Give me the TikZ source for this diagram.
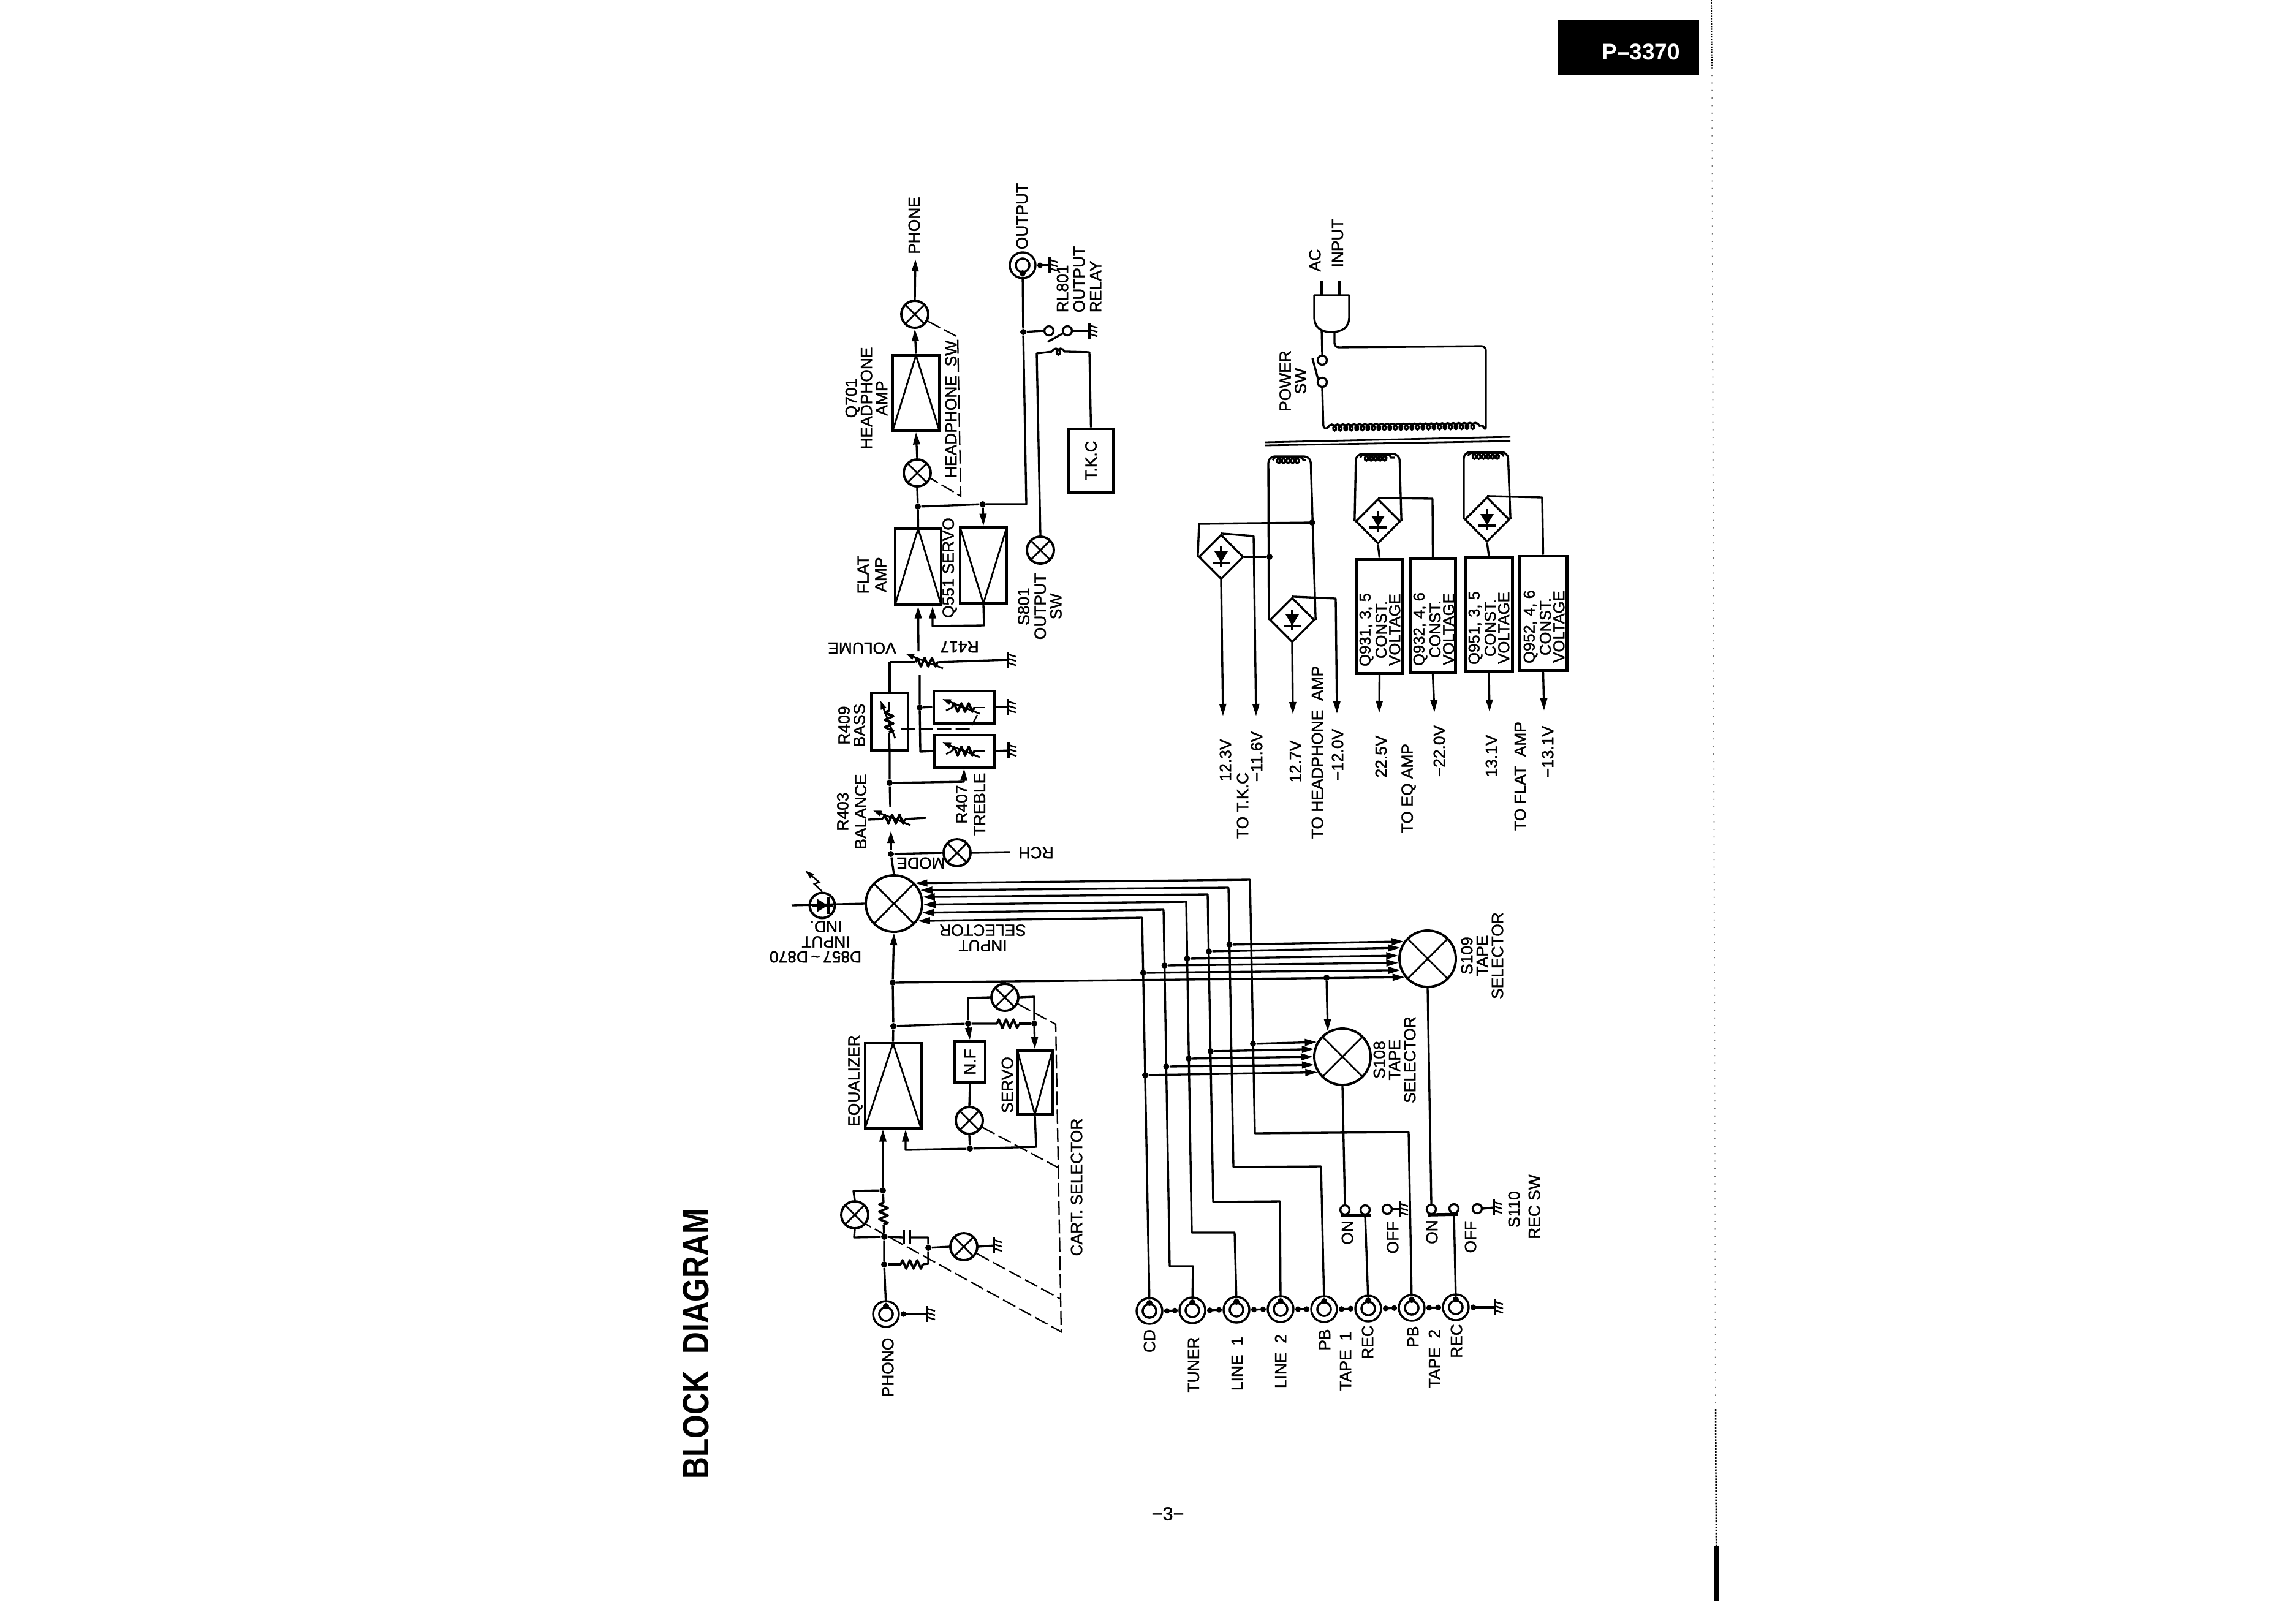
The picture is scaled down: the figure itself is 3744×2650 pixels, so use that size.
\documentclass[tikz,border=0pt]{standalone}
\usepackage{fontspec}
\setsansfont{Liberation Sans}
\newfontfamily\lblfamily[FakeBold=1.4]{Liberation Sans}
\usetikzlibrary{arrows.meta,calc,shapes.geometric,decorations.pathmorphing}
\newcommand{\lblfont}{\lblfamily\fontsize{7.5}{7.1}\selectfont}
\newcommand{\resline}{\draw[wire,line width=1.1pt] (-18,0)--(-15,-7)--(-9,7)--(-3,-7)--(3,7)--(9,-7)--(15,7)--(18,0);}

\begin{document}
\begin{tikzpicture}[x=0.01cm,y=-0.01cm,
  wire/.style={draw,line width=.95pt,line join=round},
  arrow/.style={wire,-{Stealth[length=2mm,width=1.1mm,inset=0pt]}},
  gang/.style={draw,line width=.65pt,dash pattern=on 6.5pt off 2pt},
  dot/.style={circle,fill,inner sep=0,minimum size=.1cm},
  term/.style={circle,draw,line width=.95pt,inner sep=0,minimum size=.15cm},
  xsw/.style={circle,draw,line width=1.1pt,inner sep=0,minimum size=.44cm,
    path picture={\draw[line width=.8pt] (path picture bounding box.north west) -- (path picture bounding box.south east)
      (path picture bounding box.north east) -- (path picture bounding box.south west);}},
  xswbig/.style={xsw,minimum size=.92cm},
  jring/.style={circle,draw,double,line width=1pt,double distance=1.8pt,inner sep=0,minimum size=.32cm},
  block/.style={draw,line width=1.4pt,inner sep=0,font=\lblfont},
  ampup/.style={block,path picture={\draw[line width=.8pt] (path picture bounding box.north) -- (path picture bounding box.south west)
      (path picture bounding box.north) -- (path picture bounding box.south east);}},
  ampdn/.style={block,path picture={\draw[line width=.8pt] (path picture bounding box.south) -- (path picture bounding box.north west)
      (path picture bounding box.south) -- (path picture bounding box.north east);}},
  bridge/.style={diamond,draw,line width=.95pt,shape aspect=1,inner sep=0,minimum size=.73cm},
  coilw/.style={draw,line width=.95pt,decorate,decoration={coil,aspect=.9,segment length=.075cm,amplitude=.05cm}},
  lbltxt/.style={align=center,inner sep=0,font=\lblfont},
  lbl/.style={lbltxt,rotate=90},
  lblflip/.style={lbltxt,rotate=180},
  lbltight/.style={lbl,font=\lblfamily\fontsize{7.3}{6.3}\selectfont},
  jack/.pic={\node[jring] (-c) at (0,0) {}; \node[dot] (-t) at (0,-13) {};
    \coordinate (-e) at (24,0); \coordinate (-w) at (-24,0);},
  jlink/.style={wire,{Circle[length=.09cm]}-{Circle[length=.09cm]}},
  jend/.style={wire,{Circle[length=.09cm]}-},
  gnd/.pic={\coordinate (-in) at (0,0); \draw[line width=1.3pt] (0,-13) -- (0,13);
    \draw[line width=.7pt] (0,-9) -- (13,-5) (0,-2) -- (13,2) (0,5) -- (13,9);},
  res/.pic={\coordinate (-w) at (-18,0); \coordinate (-e) at (18,0); \resline},
  vres/.pic={\coordinate (-w) at (-18,0); \coordinate (-e) at (18,0); \resline
    \draw[line width=.8pt,-{Stealth[length=1.4mm,width=.9mm,inset=0pt]}] (27,10) -- (-34,-14);},
  diode/.pic={\fill (-11,-9) -- (11,-9) -- (0,9) -- cycle;
    \draw[line width=.9pt] (0,-17) -- (0,17) (-14,10) -- (14,10);}]
\fill[white] (0,0) rectangle (3744,2650);
\useasboundingbox (0,0) rectangle (3744,2650);

\node[rotate=90,xscale=.83,inner sep=0,font=\sffamily\bfseries\fontsize{17}{17}\selectfont] (title) at (1136,2194) {BLOCK\ \ DIAGRAM};
\node[fill=black,minimum width=2.3cm,minimum height=.89cm,inner sep=0] (tag) at (2658,77.5) {};
\node[text=white,inner sep=0,font=\sffamily\bfseries\fontsize{10.5}{10.5}\selectfont] (tagnum) at (2678,85) {P–3370};
\node[inner sep=0,font=\lblfamily\fontsize{8.7}{8.7}\selectfont] (pageno) at (1906,2471) {−3−};
\draw[line width=.5pt,dash pattern=on .6pt off .6pt] (2793,0) -- (2794,110);
\draw[black!55,line width=.5pt,dash pattern=on .5pt off 3pt] (2794,110) -- (2800,2300);
\draw[line width=.7pt,dash pattern=on .8pt off .6pt] (2800,2300) -- (2801,2523);
\draw[line width=2.2pt] (2801,2523) -- (2802,2613);

\node[xsw] (hpout) at (1493,513) {};
\node[ampup,minimum width=.76cm,minimum height=1.23cm] (hpamp) at (1495,641.5) {};
\node[xsw] (hpin) at (1497,772) {};
\node[dot] (flatdot) at (1498,827) {};
\node[dot] (srvdot) at (1604,823) {};
\node[ampup,minimum width=.75cm,minimum height=1.24cm] (flatamp) at (1498.5,925) {};
\node[ampdn,minimum width=.76cm,minimum height=1.24cm] (flatsrv) at (1605,923) {};
\pic (outj) [rotate=180] at (1669,433) {jack};
\pic (goutj) at (1713,433) {gnd};
\node[dot] (rldot) at (1670,542) {};
\node[term] (rla) at (1712,540) {};
\node[term] (rlb) at (1742,540) {};
\pic (grl) at (1778,540) {gnd};
\coordinate (coill) at (1717,574);
\coordinate (coilr) at (1742,574);
\node[block,rotate=90,minimum width=1.03cm,minimum height=.73cm] (tkc) at (1780.5,751.5) {T.K.C};
\node[xsw] (s801) at (1698,898) {};
\coordinate (phone) at (1494,423);

\pic (vol) at (1512,1081) {vres};
\pic (gvol) at (1645,1077) {gnd};
\coordinate (volwip) at (1499,1063);
\coordinate (tone) at (1501,1102);
\node[dot] (tonedot) at (1501,1155) {};
\node[block,minimum width=.6cm,minimum height=.94cm] (bassbox) at (1452,1178) {};
\node[block,minimum width=.98cm,minimum height=.52cm] (bassnf) at (1573,1154) {};
\node[block,minimum width=.97cm,minimum height=.52cm] (trebbox) at (1573.5,1226) {};
\pic (rbass) [rotate=-90,yscale=-1] at (1451,1178) {vres};
\pic (rnf) at (1572,1155) {vres};
\pic (rtreb) at (1572,1226) {vres};
\pic (gnf) at (1645,1154) {gnd};
\pic (gtreb) at (1646,1225) {gnd};
\node[dot] (trebdot) at (1452,1278) {};
\coordinate (balwip) at (1453,1317);
\pic (bal) at (1459,1337) {vres};
\coordinate (balw) at (1417,1338);
\coordinate (bale) at (1511,1335);
\coordinate (balin) at (1454,1356);
\node[dot] (modedot) at (1454,1394) {};
\node[xsw] (mode) at (1562,1392) {};
\coordinate (rch) at (1648,1391);
\coordinate (bassgang) at (1470,1190);
\coordinate (nfgang) at (1595,1167);

\node[xswbig] (inpsel) at (1459,1475) {};
\node[circle,draw,line width=1.1pt,inner sep=0,minimum size=.41cm] (led) at (1342,1478) {};
\pic [rotate=90] at (led) {diode};
\coordinate (ledin) at (1292,1478);
\coordinate (ledray) at (1314,1421);

\node[dot] (eqdot) at (1457,1604) {};
\node[dot] (eqfb) at (1458,1675) {};
\node[ampup,minimum width=.91cm,minimum height=1.38cm] (eqamp) at (1457.5,1772) {};
\node[dot] (nfdot) at (1580,1671) {};
\node[dot] (srdot) at (1688,1671) {};
\pic (rfb) at (1645,1671) {res};
\node[xsw] (topsw) at (1640,1628) {};
\node[block,rotate=90,minimum width=.67cm,minimum height=.5cm] (nfbox) at (1583,1733.5) {N.F};
\node[ampdn,minimum width=.57cm,minimum height=1.04cm] (eqsrv) at (1689,1767) {};
\node[xsw] (nfsw) at (1582,1829) {};
\node[dot] (fbdot) at (1583,1875) {};

\node[dot] (phtop) at (1441,1943) {};
\pic (rph) [rotate=-90,yscale=-1] at (1442,1981) {res};
\node[xsw] (phsw) at (1395,1983) {};
\node[dot] (phmid) at (1443,2019) {};
\node[dot] (phlow) at (1443,2064) {};
\coordinate (capa) at (1475,2020);
\coordinate (capb) at (1485,2020);
\node[dot] (capdot) at (1515,2037) {};
\pic (rsh) at (1488,2064) {res};
\node[xsw] (shsw) at (1573,2035) {};
\pic (gsh) at (1622,2033) {gnd};
\pic (phono) at (1446,2145) {jack};
\pic (gphono) at (1513,2145) {gnd};

\pic (cd) at (1876,2140) {jack};
\pic (tuner) at (1946,2139) {jack};
\pic (linea) at (2018,2138) {jack};
\pic (lineb) at (2090,2137) {jack};
\pic (tapeapb) at (2161,2137) {jack};
\pic (tapearec) at (2233,2136) {jack};
\pic (tapebpb) at (2304,2135) {jack};
\pic (tapebrec) at (2376,2134) {jack};
\pic (gjack) at (2440,2134) {gnd};

\node[xswbig] (s109) at (2330,1565) {};
\node[xswbig] (s108) at (2191,1725) {};
\node[dot] (sba) at (2006.6,1542) {};
\node[dot] (sbb) at (1973,1553) {};
\node[dot] (sbc) at (1937.5,1565) {};
\node[dot] (sbd) at (1900.6,1576) {};
\node[dot] (sbe) at (1865.7,1588) {};
\node[dot] (saa) at (2045,1704) {};
\node[dot] (sab) at (1976,1716) {};
\node[dot] (sac) at (1940,1728) {};
\node[dot] (sad) at (1903.4,1741) {};
\node[dot] (sae) at (1869,1755) {};
\node[dot] (s108in) at (2165,1596) {};
\node[term] (ona) at (2195,1975) {};
\node[term] (mida) at (2228,1975) {};
\node[term] (offa) at (2264,1974) {};
\pic (gsa) at (2285,1974) {gnd};
\node[term] (onb) at (2336,1974) {};
\node[term] (midb) at (2373,1973) {};
\node[term] (offb) at (2411,1973) {};
\pic (gsb) at (2438,1971) {gnd};

\draw[arrow] (hpout.north) -- (phone);
\draw[arrow] (hpamp.north) -- (hpout.south);
\draw[arrow] (hpin.north) -- (hpamp.south);
\draw[wire] (hpin.south) -- (flatdot);
\draw[wire] (flatdot) -- (flatamp.north);
\draw[wire] (flatdot) -- (srvdot) -- (1675,823) -- (rldot) -- (outj-t);
\draw[arrow] (srvdot) -- (flatsrv.north);
\draw[arrow] (flatsrv.south) -- (1606,1021) -- (1522,1022) -- ($(flatamp.south)+(23.5,0)$);
\draw[gang] (hpout.-28) -- (1563,550) -- (1568,810) -- (hpin.-22);
\draw[jend] (outj-w) -- (goutj-in);
\draw[wire] (rldot) -- (rla.west);
\draw[wire] (rlb.east) -- (grl-in);
\draw[wire] (rlb.210) -- (1710,558);
\draw[wire] (s801.north) -- (1692,577) -- (coill);
\draw[coilw] (coill) -- (coilr);
\draw[wire] (coilr) -- (1778,575) -- (tkc.east);

\draw[arrow] (volwip) -- (flatamp.south);
\draw[wire] (1452,1081) -- (vol-w);
\draw[wire] (bassbox.north) -- (1452,1081);
\draw[wire] (vol-e) -- (gvol-in);
\draw[wire] (tone) -- (tonedot) -- (1502,1227) -- (trebbox.west);
\draw[wire] (tonedot) -- (bassnf.west);
\draw[wire] (bassnf.east) -- (gnf-in);
\draw[wire] (trebbox.east) -- (gtreb-in);
\draw[wire,line width=.8pt] (rnf-e) -- ++(18,0) (rtreb-e) -- ++(18,0);
\draw[wire,line width=.8pt] (rnf-w) -- ++(-10,5) (rtreb-w) -- ++(-10,5);
\draw[wire] (bassbox.south) -- (rbass-e);
\draw[wire,line width=.8pt] (rbass-w) -- ++(0,-14);
\draw[gang] (bassgang) -- (1583,1190) -- (nfgang);
\draw[wire] (bassbox.south) -- (trebdot) -- (balwip);
\draw[arrow] (trebdot) -- (1573,1276) -- (trebbox.south);
\draw[wire] (balw) -- (bal-w);
\draw[wire] (bal-e) -- (bale);
\draw[arrow] (modedot) -- (balin);
\draw[wire] (inpsel.north) -- (modedot);
\draw[wire] (modedot) -- (mode.west);
\draw[wire] (mode.east) -- (rch);

\draw[wire] (ledin) -- (inpsel.west);
\draw[line width=.7pt,-{Stealth[length=1.5mm,width=.9mm,inset=0pt]}] (led.north) -- (1329,1443) -- (1337,1440) -- (ledray);

\draw[arrow] (tapebpb-t) -- (2299,1848) -- (2048,1850) -- (2040,1436) -- (inpsel.44);
\draw[arrow] (tapeapb-t) -- (2156,1904) -- (2013,1905) -- (2005,1449) -- (inpsel.27);
\draw[arrow] (lineb-t) -- (2089,1961) -- (1980,1962) -- (1971,1460) -- (inpsel.13);
\draw[arrow] (linea-t) -- (2015,2012) -- (1945,2012) -- (1936,1472) -- (inpsel.-2);
\draw[arrow] (tuner-t) -- (1947,2067) -- (1909,2067) -- (1899,1485) -- (inpsel.-18);
\draw[arrow] (cd-t) -- (1864,1498) -- (inpsel.-36);
\draw[arrow] (sba) -- (s109.144);
\draw[arrow] (sbb) -- (s109.158);
\draw[arrow] (sbc) -- (s109.174);
\draw[arrow] (sbd) -- (s109.188);
\draw[arrow] (sbe) -- (s109.203);
\draw[arrow] (eqdot) -- (s109.219);
\draw[arrow] (saa) -- (s108.150);
\draw[arrow] (sab) -- (s108.165);
\draw[arrow] (sac) -- (s108.180);
\draw[arrow] (sad) -- (s108.196);
\draw[arrow] (sae) -- (s108.212);
\draw[arrow] (s108in) -- (s108.120);
\draw[arrow] (eqdot) -- (inpsel.south);

\draw[wire] (s108.south) -- (ona.north);
\draw[wire] (s109.south) -- (onb.north);
\draw[wire,line width=1.5pt] ($(ona.south)+(-6,0)$) -- ($(mida.south)+(10,0)$);
\draw[wire,line width=1.5pt] ($(onb.south)+(-6,0)$) -- ($(midb.south)+(6,0)$);
\draw[wire] (mida.south) -- (tapearec-t);
\draw[wire] (midb.south) -- (tapebrec-t);
\draw[wire] (offa.east) -- (gsa-in);
\draw[wire] (offb.east) -- (gsb-in);
\draw[jlink] (cd-e) -- (tuner-w);
\draw[jlink] (tuner-e) -- (linea-w);
\draw[jlink] (linea-e) -- (lineb-w);
\draw[jlink] (lineb-e) -- (tapeapb-w);
\draw[jlink] (tapeapb-e) -- (tapearec-w);
\draw[jlink] (tapearec-e) -- (tapebpb-w);
\draw[jlink] (tapebpb-e) -- (tapebrec-w);
\draw[jend] (tapebrec-e) -- (gjack-in);

\draw[wire] (eqdot) -- (eqfb) -- (eqamp.north);
\draw[wire] (eqfb) -- (nfdot) -- (rfb-w);
\draw[wire] (rfb-e) -- (srdot);
\draw[wire] (nfdot) -- (1580,1629) -- (topsw.west);
\draw[wire] (topsw.east) -- (1688,1627) -- (srdot);
\draw[arrow] (nfdot) -- (nfbox.east);
\draw[arrow] (srdot) -- (eqsrv.north);
\draw[wire] (nfbox.west) -- (nfsw.north);
\draw[wire] (nfsw.south) -- (fbdot);
\draw[wire] (eqsrv.south) -- (1691,1872) -- (fbdot);
\draw[arrow] (fbdot) -- (1478,1877) -- ($(eqamp.south)+(20.5,0)$);
\draw[arrow] (phtop) -- ($(eqamp.south)+(-16.5,0)$);
\draw[wire] (phtop) -- (rph-w);
\draw[wire] (rph-e) -- (phmid);
\draw[wire] (phtop) -- (1393,1944) -- (phsw.north);
\draw[wire] (phsw.south) -- (1394,2020) -- (phmid);
\draw[wire] (phono-t) -- (phlow) -- (phmid) -- (capa);
\draw[wire] (capb) -- (1515,2020) -- (capdot) -- (1515,2063) -- (rsh-e);
\draw[wire] (rsh-w) -- (phlow);
\draw[wire,line width=1.3pt] ($(capa)+(0,-12)$) -- ($(capa)+(0,11)$);
\draw[wire,line width=1.3pt] ($(capb)+(0,-12)$) -- ($(capb)+(0,11)$);
\draw[wire] (capdot) -- (shsw.west);
\draw[wire] (shsw.east) -- (gsh-in);
\draw[jend] (phono-e) -- (gphono-in);
\draw[gang] (topsw.-27) -- (1723,1672) -- (1732,2174) -- (phsw.-40);
\draw[gang] (nfsw.-28) -- (1727,1906);
\draw[gang] (shsw.-28) -- (1730,2120);

\node[term] (pwa) at (2158,588) {};
\node[term] (pwb) at (2158,624) {};
\coordinate (plugl) at (2157,538);
\coordinate (plugr) at (2178,542);
\coordinate (pril) at (2167,698);
\coordinate (prir) at (2420,695);
\draw[wire] (2145,482) -- (2202,482) -- (2202,517) .. controls (2202,535) and (2190,542) .. (2173,542)
  .. controls (2156,542) and (2145,535) .. (2145,517) -- cycle;
\draw[wire] (2157,458) -- (2157,482) (2186,458) -- (2186,482);
\draw[wire] (plugl) -- (pwa.north);
\draw[wire] (pwb.140) -- (2142,585);
\draw[wire,rounded corners=3pt] (pwb.south) -- (2160,704) -- (pril);
\draw[coilw,segment length=.09cm] (pril) -- (prir);
\draw[wire,rounded corners=2pt] (prir) -- (2425,704) -- (2425,565) -- (2178,567) -- (plugr);
\draw[wire,line width=.8pt] (2065,722) -- (2465,713);
\draw[wire,line width=.8pt] (2065,727) -- (2465,720);

\node[bridge] (brga) at (1993,909) {};
\node[bridge] (brgb) at (2109,1012) {};
\node[bridge] (brgc) at (2249,851) {};
\node[bridge] (brgd) at (2427,848) {};
\pic at (brga) {diode};
\pic at (brgb) {diode};
\pic at (brgc) {diode};
\pic at (brgd) {diode};
\node[dot] (railr) at (2141.5,853) {};
\node[dot] (raill) at (2072,909) {};
\node[block,minimum width=.75cm,minimum height=1.86cm] (q931) at (2251.5,1006) {};
\node[block,minimum width=.73cm,minimum height=1.85cm] (q932) at (2338.5,1004.5) {};
\node[block,minimum width=.76cm,minimum height=1.86cm] (q951) at (2430,1003) {};
\node[block,minimum width=.77cm,minimum height=1.86cm] (q952) at (2518.5,1001) {};
\coordinate (vtka) at (1996,1169);
\coordinate (vtkb) at (2050,1169);
\coordinate (vhpa) at (2110,1166);
\coordinate (vhpb) at (2182,1165);
\coordinate (veqa) at (2251,1164);
\coordinate (veqb) at (2341,1163);
\coordinate (vfla) at (2431,1162);
\coordinate (vflb) at (2520,1160);

\draw[wire,rounded corners=3pt] (brgb.west) -- (2070,745) -- (2139,745) -- (brgb.east);
\draw[coilw] (2077,751) -- (2131,751);
\draw[wire,rounded corners=3pt] (brgc.west) -- (2213,741) -- (2284,741) -- (brgc.east);
\draw[coilw] (2220,747) -- (2276,747);
\draw[wire,rounded corners=3pt] (brgd.west) -- (2389,738) -- (2461,738) -- (brgd.east);
\draw[coilw] (2396,744) -- (2454,744);
\draw[wire] (brga.west) -- (1957,855) -- (railr);
\draw[wire] (brga.east) -- (raill);
\draw[arrow] (brga.south) -- (vtka);
\draw[arrow] (brga.north) -- (2046,875) -- (vtkb);
\draw[arrow] (brgb.south) -- (vhpa);
\draw[arrow] (brgb.north) -- (2180,977) -- (vhpb);
\draw[wire] (brgc.south) -- (q931.north);
\draw[wire] (brgc.north) -- (2338,814) -- (q932.north);
\draw[wire] (brgd.south) -- (q951.north);
\draw[wire] (brgd.north) -- (2517,812) -- (q952.north);
\draw[arrow] (q931.south) -- (veqa);
\draw[arrow] (q932.south) -- (veqb);
\draw[arrow] (q951.south) -- (vfla);
\draw[arrow] (q952.south) -- (vflb);

\node[lbl] (tphone) at (1492,368) {PHONE};
\node[lbl] (thpamp) at (1414,650) {Q701\\HEADPHONE\\AMP};
\node[lbl] (thpsw) at (1552,668) {HEADPHONE\ \ SW};
\node[lbl] (toutput) at (1668,353) {OUTPUT};
\node[lbl,align=left] (trelay) at (1761,456) {RL801\\[.6pt]OUTPUT\\[.6pt]RELAY};
\node[lbl] (tflat) at (1423,938) {FLAT\\[1.1pt]AMP};
\node[lbl] (tservo) at (1550,927) {Q551 SERVO};
\node[lbl] (ts801) at (1697,990) {S801\\[.6pt]OUTPUT\\[.2pt]SW};
\node[lblflip] (tvol) at (1407,1058) {VOLUME};
\node[lblflip] (tr417) at (1566,1056) {R417};
\node[lbl] (tbass) at (1390,1184) {R409\\BASS};
\node[lbl] (tbal) at (1390,1325) {R403\\[1.2pt]BALANCE};
\node[lbl] (ttreb) at (1584,1313) {R407\\[1.2pt]TREBLE};
\node[lblflip] (tmode) at (1503,1409) {MODE};
\node[lblflip] (trch) at (1691,1392) {RCH};
\node[lblflip] (tinpsel) at (1604,1531) {INPUT\\SELECTOR};
\node[lblflip] (tledb) at (1331,1562) {D857\,\textasciitilde\,D870};
\node[lblflip] (tled) at (1348,1525) {INPUT\\IND.};
\node[lbl] (teq) at (1396,1764) {EQUALIZER};
\node[lbl] (tservob) at (1644,1771) {SERVO};
\node[lbl] (tcart) at (1757,1938) {CART. SELECTOR};
\node[lbl] (tphono) at (1449,2232) {PHONO};
\node[lbl] (tcd) at (1876,2189) {CD};
\node[lbl] (ttuner) at (1948,2228) {TUNER};
\node[lbl] (tlinea) at (2019,2226) {LINE\ \ 1};
\node[lbl] (tlineb) at (2090,2222) {LINE\ \ 2};
\node[lbl] (tpba) at (2162,2187) {PB};
\node[lbl] (ttapea) at (2196,2222) {TAPE\ \ 1};
\node[lbl] (treca) at (2232,2191) {REC};
\node[lbl] (tpbb) at (2306,2182) {PB};
\node[lbl] (ttapeb) at (2341,2218) {TAPE\ \ 2};
\node[lbl] (trecb) at (2377,2189) {REC};
\node[lbl] (tona) at (2199,2012) {ON};
\node[lbl] (toffa) at (2273,2020) {OFF};
\node[lbl] (tonb) at (2337,2011) {ON};
\node[lbl] (toffb) at (2400,2019) {OFF};
\node[lbl] (ts110) at (2471,1974) {S110};
\node[lbl] (trecsw) at (2504,1970) {REC SW};
\node[lbl] (ts109) at (2419,1560) {S109\\TAPE\\SELECTOR};
\node[lbl] (ts108) at (2276,1730) {S108\\TAPE\\SELECTOR};
\node[lbl] (tac) at (2146,425) {AC};
\node[lbl] (tinput) at (2183,397) {INPUT};
\node[lbl] (tpower) at (2110,622) {POWER\\SW};
\node[lbltight] (tq931) at (2252,1028) {Q931, 3, 5\\CONST.\\VOLTAGE};
\node[lbltight] (tq932) at (2340,1027) {Q932, 4, 6\\CONST.\\VOLTAGE};
\node[lbltight] (tq951) at (2430,1025) {Q951, 3, 5\\CONST.\\VOLTAGE};
\node[lbltight] (tq952) at (2520,1023) {Q952, 4, 6\\CONST.\\VOLTAGE};
\node[lbl] (tva) at (2000,1241) {12.3V};
\node[lbl] (ttka) at (2028,1315) {TO T.K.C};
\node[lbl] (tvb) at (2051,1235) {−11.6V};
\node[lbl] (tvc) at (2114,1243) {12.7V};
\node[lbl] (thpb) at (2150,1228) {TO HEADPHONE\ \ AMP};
\node[lbl] (tvd) at (2183,1232) {−12.0V};
\node[lbl] (tve) at (2254,1235) {22.5V};
\node[lbl] (teqb) at (2299,1287) {TO EQ AMP};
\node[lbl] (tvf) at (2349,1226) {−22.0V};
\node[lbl] (tvg) at (2434,1234) {13.1V};
\node[lbl] (tflb) at (2481,1267) {TO FLAT\ \ AMP};
\node[lbl] (tvh) at (2526,1227) {−13.1V};
\end{tikzpicture}
\end{document}
